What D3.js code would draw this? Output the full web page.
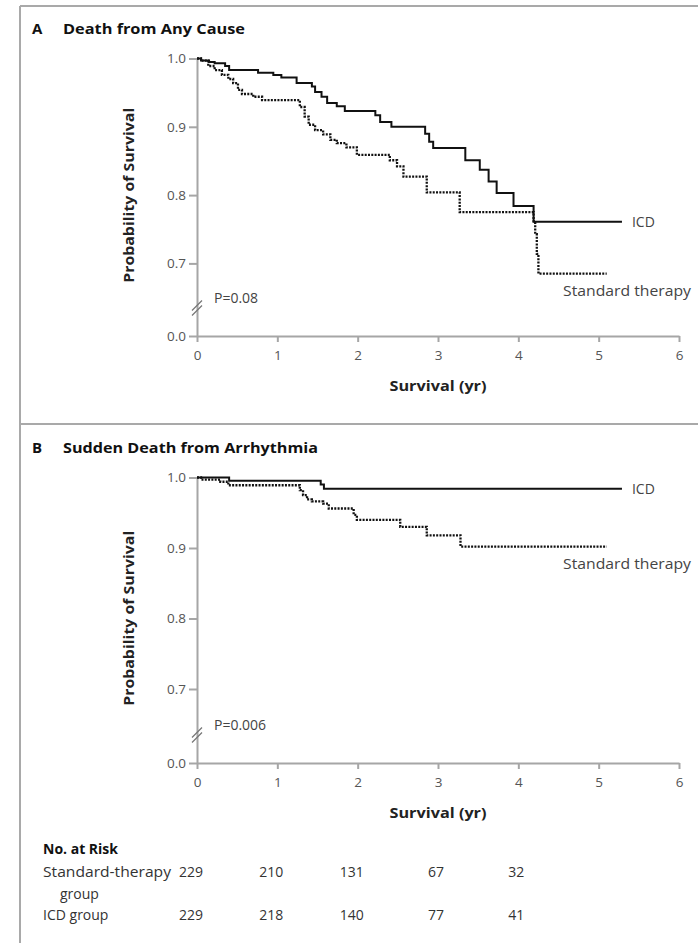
<!DOCTYPE html>
<html lang="en">
<head>
<meta charset="UTF-8">
<title>ICD vs standard therapy - survival</title>
<script src="https://d3js.org/d3.v7.min.js"></script>
<style>
  body { margin:0; background:#fff; }
  svg { display:block; font-family:"Open Sans", sans-serif; }
  .axis path, .axis line { stroke:#a6a6a6; stroke-width:2; }
  .axis text { fill:#555; font-size:13.5px; font-family:"Open Sans", sans-serif; }
</style>
</head>
<body>
<script>
// ---- data ----
const years = [0, 1, 2, 3, 4, 5, 6];
const survTicks = [0, 0.7, 0.8, 0.9, 1.0];

// Panel A: death from any cause (time in yr, survival after each step)
const allIcdT = [0, 0.05, 0.15, 0.22, 0.35, 0.40, 0.76, 0.95, 1.05, 1.24, 1.43, 1.47, 1.55, 1.62, 1.74, 1.84, 2.22, 2.28, 2.42, 2.84, 2.89, 2.94, 3.34, 3.52, 3.63, 3.73, 3.94, 4.19, 5.29];
const allIcdS = [1.0, 0.997, 0.995, 0.993, 0.989, 0.983, 0.979, 0.976, 0.972, 0.964, 0.959, 0.951, 0.944, 0.935, 0.930, 0.923, 0.917, 0.907, 0.900, 0.890, 0.878, 0.869, 0.851, 0.837, 0.820, 0.803, 0.784, 0.761, 0.761];
const allStdT = [0, 0.05, 0.14, 0.22, 0.31, 0.39, 0.45, 0.51, 0.56, 0.70, 0.81, 1.28, 1.34, 1.39, 1.47, 1.57, 1.66, 1.74, 1.86, 1.99, 2.40, 2.49, 2.57, 2.86, 3.27, 4.19, 4.21, 4.23, 4.25, 5.10];
const allStdS = [1.0, 0.997, 0.989, 0.983, 0.976, 0.970, 0.964, 0.954, 0.948, 0.944, 0.939, 0.929, 0.915, 0.903, 0.895, 0.889, 0.881, 0.876, 0.870, 0.859, 0.851, 0.842, 0.827, 0.804, 0.775, 0.762, 0.743, 0.714, 0.685, 0.685];

// Panel B: sudden death from arrhythmia
const sudIcdT = [0, 0.40, 1.54, 1.58, 5.29];
const sudIcdS = [1.0, 0.9955, 0.990, 0.984, 0.984];
const sudStdT = [0, 0.05, 0.29, 0.39, 1.28, 1.32, 1.37, 1.43, 1.57, 1.64, 1.95, 1.99, 2.53, 2.86, 3.28, 5.10];
const sudStdS = [1.0, 0.997, 0.994, 0.989, 0.982, 0.975, 0.969, 0.966, 0.963, 0.956, 0.947, 0.940, 0.930, 0.918, 0.902, 0.902];

// No. at risk
const riskYears = [0, 1, 2, 3, 4];
const riskStd = [229, 210, 131, 67, 32];
const riskIcd = [229, 218, 140, 77, 41];

// ---- drawing ----
const W = 698, H = 943;
const svg = d3.select("body").append("svg").attr("width", W).attr("height", H);

// frame
const frame = svg.append("g").attr("stroke", "#a9a9a9").attr("stroke-width", 2);
frame.append("line").attr("x1", 20).attr("x2", W).attr("y1", 6).attr("y2", 6);
frame.append("line").attr("x1", 20).attr("x2", 20).attr("y1", 6).attr("y2", H);
frame.append("line").attr("x1", 20).attr("x2", W).attr("y1", 424).attr("y2", 424);

const panels = [
  { letter: "A", title: "Death from Any Cause", titleY: 34, titleW: 182,
    top: 58.5, step: 68.3, zero: 336, p: "P=0.08",
    icd: d3.zip(allIcdT, allIcdS), std: d3.zip(allStdT, allStdS) },
  { letter: "B", title: "Sudden Death from Arrhythmia", titleY: 453, titleW: 255,
    top: 477.5, step: 70.5, zero: 763, p: "P=0.006",
    icd: d3.zip(sudIcdT, sudIcdS), std: d3.zip(sudStdT, sudStdS) }
];

const x = d3.scaleLinear().domain([0, 6]).range([197, 679]);

panels.forEach(cfg => {
  const g = svg.append("g");

  g.append("text").attr("x", 32).attr("y", cfg.titleY)
    .attr("font-weight", 700).attr("font-size", 15).attr("fill", "#111").text(cfg.letter);
  g.append("text").attr("x", 63).attr("y", cfg.titleY)
    .attr("font-weight", 700).attr("font-size", 14.5).attr("fill", "#111")
    .attr("textLength", cfg.titleW).attr("lengthAdjust", "spacingAndGlyphs")
    .text(cfg.title);

  // broken axis: 0.0 at the bottom, 0.65-1.0 above the break
  const y = d3.scaleLinear()
    .domain([0, 0.65, 1.0])
    .range([cfg.zero, cfg.top + 3.5 * cfg.step, cfg.top]);

  g.append("g").attr("class", "axis")
    .attr("transform", `translate(0,${cfg.zero})`)
    .call(d3.axisBottom(x).tickValues(years).tickFormat(d3.format("d"))
      .tickSize(6).tickSizeOuter(0).tickPadding(8));

  g.append("g").attr("class", "axis")
    .attr("transform", `translate(${x(0)},0)`)
    .call(d3.axisLeft(y).tickValues(survTicks).tickFormat(d3.format(".1f"))
      .tickSize(8).tickSizeOuter(0).tickPadding(3));

  // break marks on the y axis
  const bx = x(0), by = cfg.zero - 28;
  [-2.5, 2.5].forEach(o => {
    g.append("line")
      .attr("x1", bx - 5).attr("y1", by + o + 5)
      .attr("x2", bx + 5).attr("y2", by + o - 5)
      .attr("stroke", "#777").attr("stroke-width", 1.3);
  });

  g.append("text").attr("x", 214).attr("y", cfg.zero - 33)
    .attr("font-size", 14).attr("fill", "#444").text(cfg.p);

  // axis titles
  g.append("text")
    .attr("transform", `translate(134,${(cfg.top + cfg.zero) / 2 - 2}) rotate(-90)`)
    .attr("text-anchor", "middle").attr("font-weight", 700).attr("font-size", 14)
    .attr("fill", "#222").attr("textLength", 175).attr("lengthAdjust", "spacingAndGlyphs")
    .text("Probability of Survival");
  g.append("text").attr("x", x(3)).attr("y", cfg.zero + 55)
    .attr("text-anchor", "middle").attr("font-weight", 700).attr("font-size", 14)
    .attr("fill", "#222").attr("textLength", 97).attr("lengthAdjust", "spacingAndGlyphs")
    .text("Survival (yr)");

  // KM curves
  const line = d3.line().x(d => x(d[0])).y(d => y(d[1])).curve(d3.curveStepAfter);
  g.append("path").datum(cfg.std).attr("d", line)
    .attr("fill", "none").attr("stroke", "#111").attr("stroke-width", 2.3)
    .attr("stroke-dasharray", "2,1.3");
  g.append("path").datum(cfg.icd).attr("d", line)
    .attr("fill", "none").attr("stroke", "#111").attr("stroke-width", 2);

  const lastIcd = cfg.icd[cfg.icd.length - 1];
  const lastStd = cfg.std[cfg.std.length - 1];
  g.append("text").attr("x", x(lastIcd[0]) + 10).attr("y", y(lastIcd[1]) + 5)
    .attr("font-size", 14).attr("fill", "#444").text("ICD");
  g.append("text").attr("x", 563).attr("y", y(lastStd[1]) + 22)
    .attr("font-size", 14).attr("fill", "#444")
    .attr("textLength", 128).attr("lengthAdjust", "spacingAndGlyphs")
    .text("Standard therapy");
});

// No. at risk table
const tbl = svg.append("g").attr("font-size", 14).attr("fill", "#333");
tbl.append("text").attr("x", 43).attr("y", 854).attr("font-weight", 700).attr("fill", "#111")
  .text("No. at Risk");
tbl.append("text").attr("x", 43).attr("y", 877)
  .attr("textLength", 128).attr("lengthAdjust", "spacingAndGlyphs").text("Standard-therapy");
tbl.append("text").attr("x", 60).attr("y", 899).text("group");
tbl.append("text").attr("x", 43).attr("y", 920).text("ICD group");

[[riskStd, 877], [riskIcd, 920]].forEach(([vals, yy]) => {
  tbl.selectAll(null).data(vals).enter().append("text")
    .attr("x", (d, i) => x(riskYears[i]) + 6)
    .attr("y", yy)
    .attr("text-anchor", "end")
    .text(d => d);
});
</script>
</body>
</html>
